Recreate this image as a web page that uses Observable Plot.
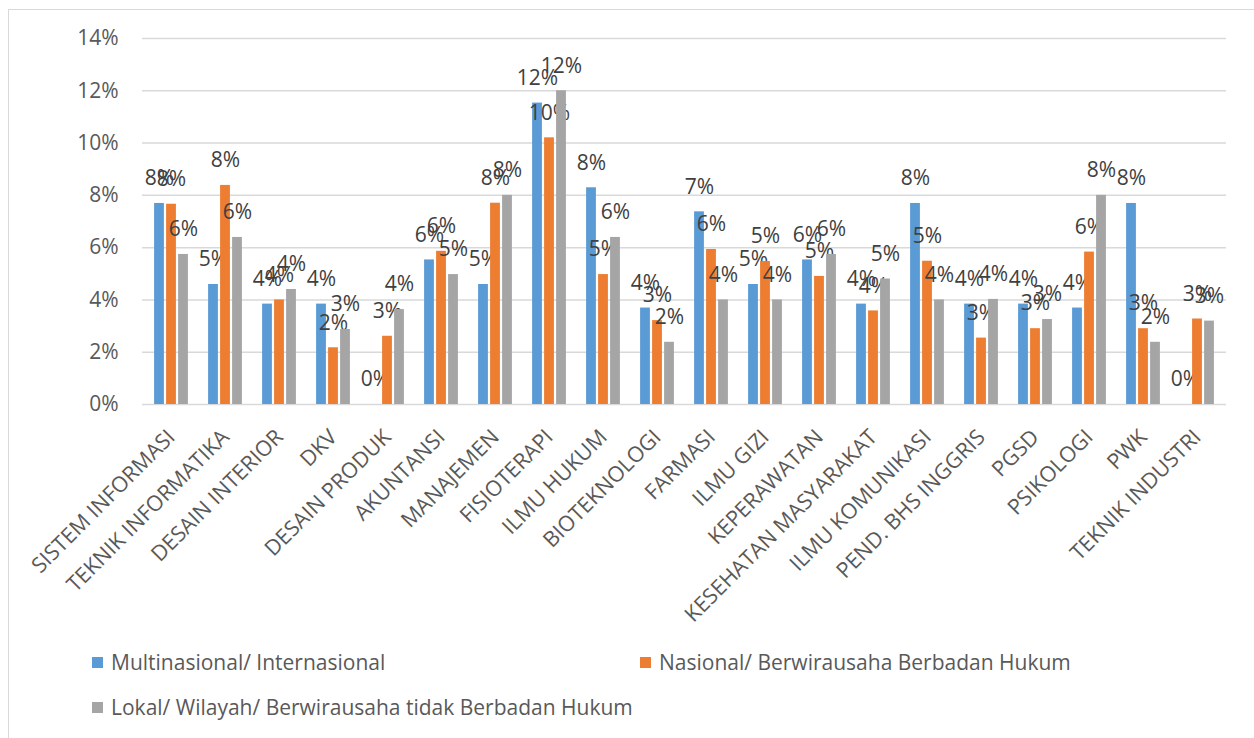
<!DOCTYPE html>
<html>
<head>
<meta charset="utf-8">
<script src="https://cdn.jsdelivr.net/npm/d3@7"></script>
<script src="https://cdn.jsdelivr.net/npm/@observablehq/plot@0.6"></script>
<style>
  html, body { margin: 0; padding: 0; background: #fff; }
  #wrap { position: relative; width: 1254px; height: 738px; overflow: hidden; font-family: "Open Sans", sans-serif; }
  #frame { position: absolute; left: 8px; top: 9px; width: 1400px; height: 900px; border: 1.5px solid #d9d9d9; box-sizing: border-box; }
  #chart { position: absolute; left: 0; top: 0; }
  .lg { position: absolute; display: flex; align-items: center; height: 28px; font-size: 21px; color: #595959; white-space: nowrap; }
  .lg .sw { width: 11px; height: 11px; margin-right: 8px; }
</style>
</head>
<body>
<div id="wrap">
  <div id="frame"></div>
  <div id="chart"></div>
  <div id="legend"></div>
</div>
<script>
const categories = ["SISTEM INFORMASI","TEKNIK INFORMATIKA","DESAIN INTERIOR","DKV","DESAIN PRODUK","AKUNTANSI","MANAJEMEN","FISIOTERAPI","ILMU HUKUM","BIOTEKNOLOGI","FARMASI","ILMU GIZI","KEPERAWATAN","KESEHATAN MASYARAKAT","ILMU KOMUNIKASI","PEND. BHS INGGRIS","PGSD","PSIKOLOGI","PWK","TEKNIK INDUSTRI"];
const seriesNames = ["Multinasional/ Internasional","Nasional/ Berwirausaha Berbadan Hukum","Lokal/ Wilayah/ Berwirausaha tidak Berbadan Hukum"];
const multinasional = [0.0769,0.0459,0.0384,0.0384,0,0.0553,0.0459,0.1153,0.0829,0.0369,0.0737,0.0459,0.0553,0.0384,0.0769,0.0384,0.0384,0.0369,0.0769,0];
const nasional = [0.0766,0.0838,0.0400,0.0217,0.0261,0.0586,0.0770,0.1020,0.0497,0.0321,0.0593,0.0547,0.0490,0.0358,0.0548,0.0254,0.0290,0.0583,0.0290,0.0327];
const lokal = [0.0574,0.0639,0.0440,0.0287,0.0363,0.0497,0.0800,0.1200,0.0639,0.0238,0.0400,0.0400,0.0574,0.0480,0.0400,0.0402,0.0325,0.0800,0.0238,0.0319];
const yTicks = [0,0.02,0.04,0.06,0.08,0.10,0.12,0.14];
const colors = ["#5B9BD5","#ED7D31","#A5A5A5"];

const seriesValues = [multinasional, nasional, lokal];
const W = 1254, H = 640, mL = 142, mR = 28, mT = 38, mB = H - 404;
const step = (W - mL - mR) / categories.length;
const barW = 10, gap = 2, inset = (step - barW) / 2;
const fmt = d3.format(".0%");

const marks = [Plot.ruleY(yTicks, {stroke: "#d9d9d9", strokeWidth: 1.5})];
seriesValues.forEach((vals, i) => {
  const rows = categories.map((c, j) => ({category: c, value: vals[j], series: seriesNames[i]}));
  const off = (i - 1) * (barW + gap);
  marks.push(Plot.barY(rows.filter(d => d.value > 0), {x: "category", y: "value", fill: colors[i], insetLeft: inset, insetRight: inset, dx: off}));
  marks.push(Plot.text(rows, {x: "category", y: "value", text: d => fmt(d.value), dx: off, dy: -25, fill: "#404040", fontSize: 21}));
});
marks.push(Plot.axisY({ticks: yTicks, tickFormat: fmt, tickSize: 0, tickPadding: 24, fontSize: 21, label: null}));
marks.push(Plot.axisX({tickRotate: -45, tickSize: 0, tickPadding: 29, fontSize: 21.5, label: null}));

const chart = Plot.plot({
  width: W, height: H,
  marginLeft: mL, marginRight: mR, marginTop: mT, marginBottom: mB,
  style: {fontFamily: "Open Sans", color: "#595959", background: "transparent", overflow: "visible"},
  x: {type: "band", domain: categories, padding: 0},
  y: {domain: [0, 0.14]},
  marks
});
document.getElementById("chart").appendChild(chart);

const legend = document.getElementById("legend");
const legendPos = [[92, 648], [640, 648], [92, 693]];
seriesNames.forEach((name, i) => {
  const el = document.createElement("div");
  el.className = "lg";
  el.style.left = legendPos[i][0] + "px";
  el.style.top = legendPos[i][1] + "px";
  el.innerHTML = `<div class="sw" style="background:${colors[i]}"></div><span>${name}</span>`;
  legend.appendChild(el);
});
</script>
</body>
</html>
